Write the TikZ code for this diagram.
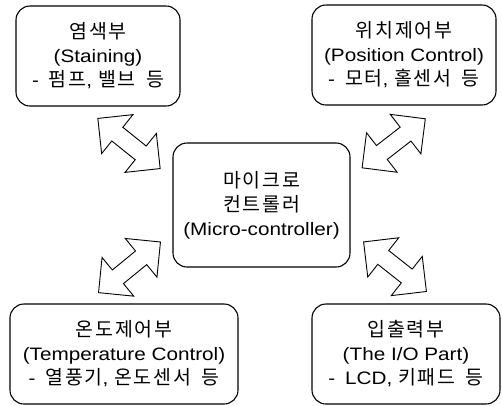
\documentclass[tikz,border=0pt]{standalone}
\usepackage{fontspec}
\setmainfont{Liberation Sans}[FakeStretch=1.15]
\newfontfamily\krf{Noto Sans CJK KR}[Scale=1.08, LetterSpace=9, WordSpace=1.7]
\newcommand{\kr}[1]{{\krf #1}}
\newcommand{\gap}{\hspace{10pt}}
\newcommand{\cgap}{\hspace{6pt}}
\begin{document}
\begin{tikzpicture}[x=1pt,y=-1pt,
  box/.style={draw=black, line width=1.1pt, rounded corners=14pt, align=center,
    inner sep=0pt, font=\fontsize{18}{24}\selectfont},
  arrowline/.style={draw=black, line width=0.9pt, fill=white, line join=miter},
  dblarrow/.pic={\path[arrowline] (-40,0) -- (-15,-25) -- (-15,-8.8) -- (15,-8.8) -- (15,-25)
     -- (40,0) -- (15,25) -- (15,8.8) -- (-15,8.8) -- (-15,25) -- cycle;}]
\useasboundingbox (0,0) rectangle (502,405);
\node[box, minimum width=164pt, minimum height=100pt] (stain) at (98,56)
  {\kr{염색부}\\(Staining)\\-\gap\kr{펌프},\cgap\kr{밸브 등}};
\node[box, minimum width=184pt, minimum height=100pt] (pos) at (404,55)
  {\kr{위치제어부}\\(Position Control)\\-\gap\kr{모터},\cgap\kr{홀센서 등}};
\node[box, minimum width=177pt, minimum height=124pt] (mcu) at (261.5,205)
  {\kr{마이크로}\\\kr{컨트롤러}\\(Micro-controller)};
\node[box, minimum width=228pt, minimum height=100pt] (temp) at (124,354)
  {\kr{온도제어부}\\(Temperature Control)\\-\gap\kr{열풍기},\cgap\kr{온도센서 등}};
\node[box, minimum width=188pt, minimum height=100pt] (io) at (406,354)
  {\kr{입출력부}\\(The I/O Part)\\-\gap LCD,\cgap\kr{키패드 등}};
\pic[rotate=-38.8] at (129,143.5) {dblarrow};
\pic[rotate=37.8] at (393.7,143.3) {dblarrow};
\pic[rotate=39.3] at (129.5,267.3) {dblarrow};
\pic[rotate=-38.3] at (395,266.7) {dblarrow};
\end{tikzpicture}
\end{document}
